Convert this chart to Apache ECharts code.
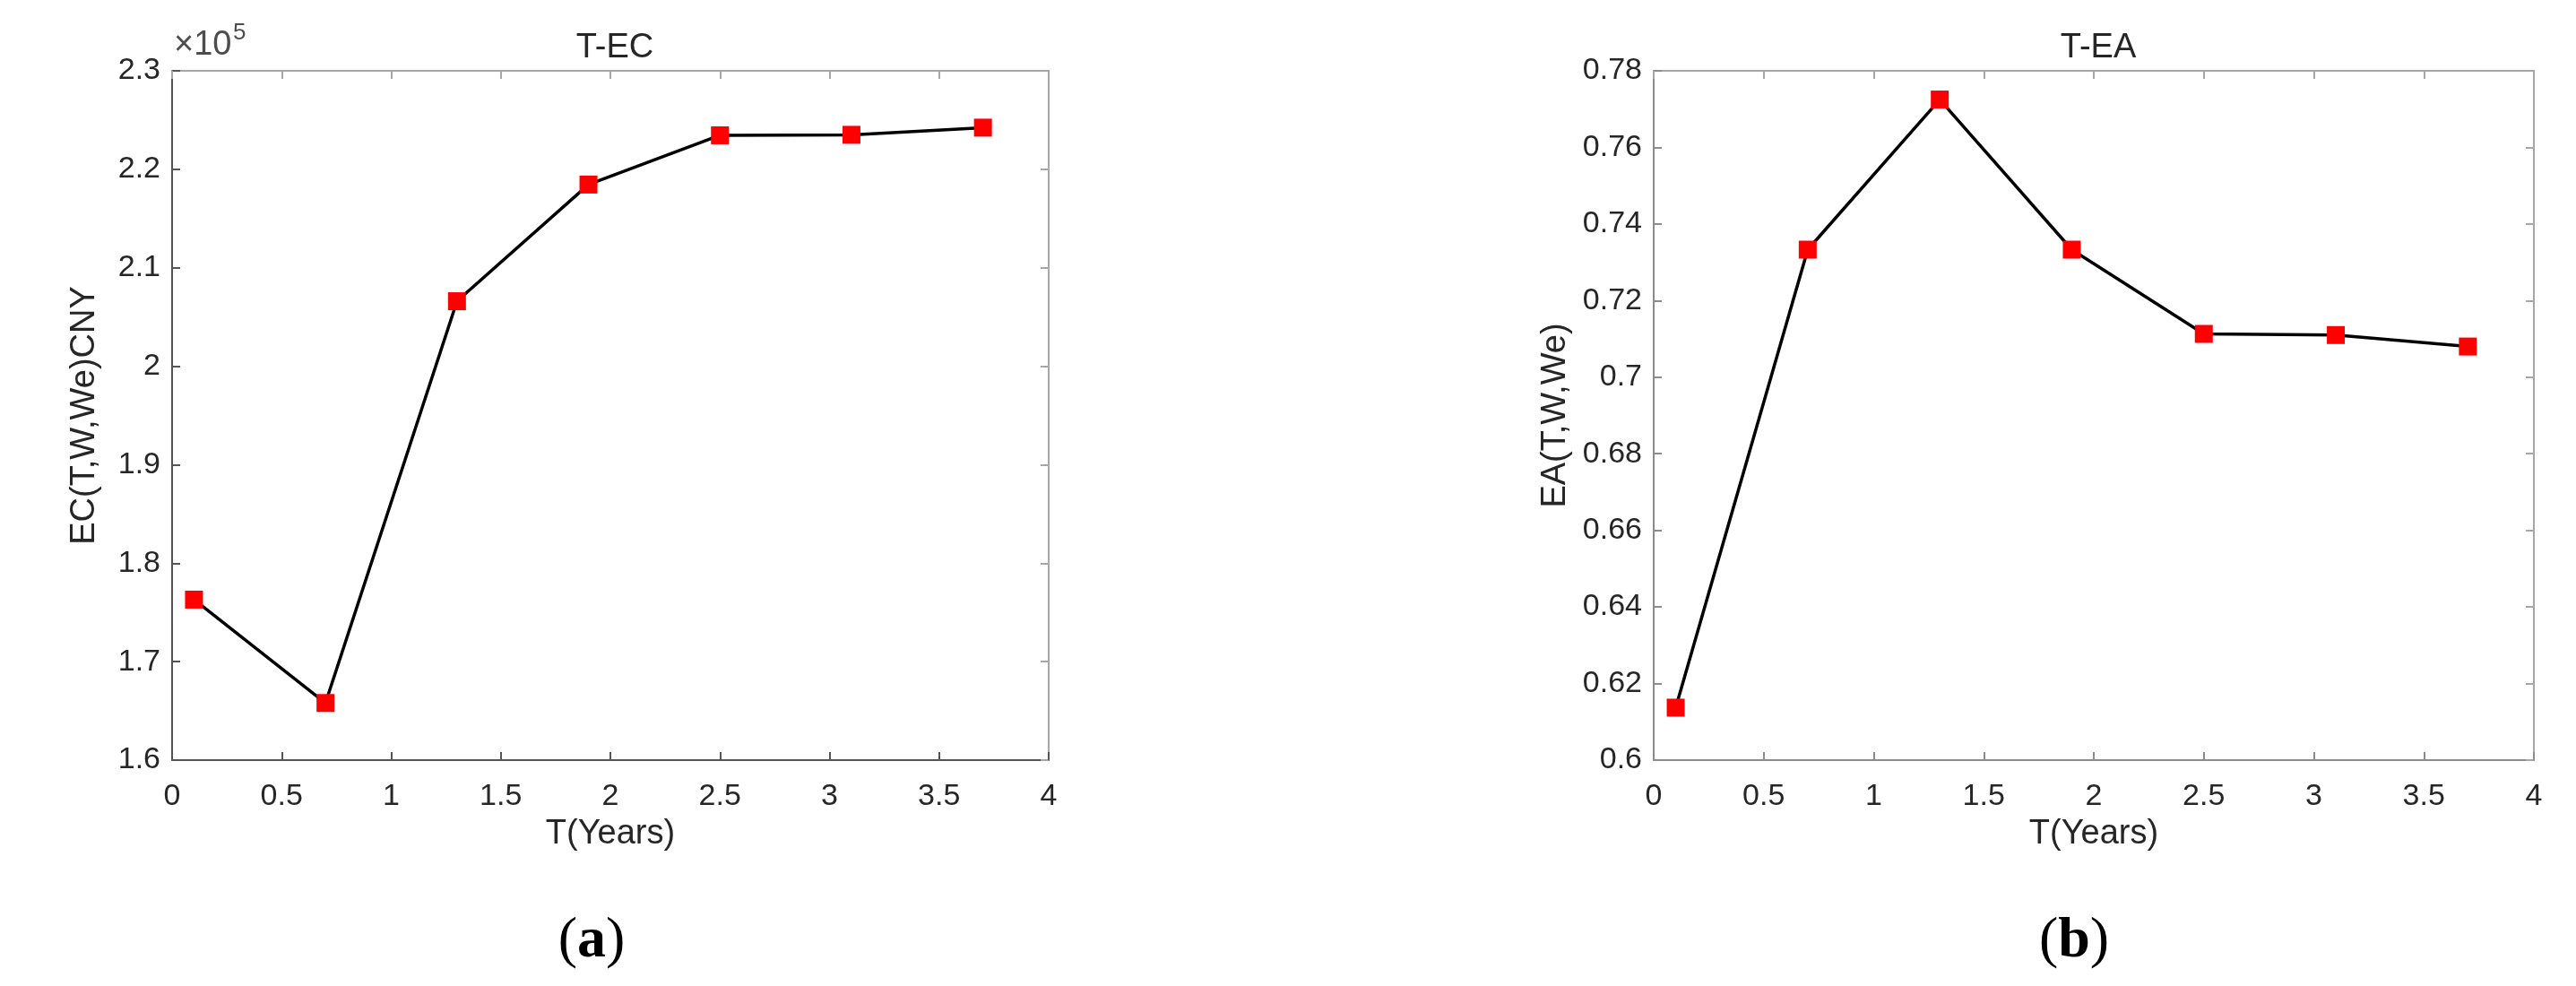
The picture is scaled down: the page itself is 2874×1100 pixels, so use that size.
<!DOCTYPE html>
<html>
<head>
<meta charset="utf-8">
<script src="https://cdn.jsdelivr.net/npm/echarts@6/dist/echarts.min.js"></script>
<style>
html,body{margin:0;padding:0;background:#fff;}
#chart{width:2874px;height:1100px;}
</style>
</head>
<body>
<div id="chart"></div>
<script>
// Data
var tYears = [0.1, 0.7, 1.3, 1.9, 2.5, 3.1, 3.7];
var ecValues = [176300, 165800, 206600, 218450, 223450, 223500, 224230];
var eaValues = [0.6137, 0.7333, 0.7725, 0.7333, 0.7113, 0.7110, 0.7080];
var titleA = 'T-EC';
var titleB = 'T-EA';
var xName = 'T(Years)';
var yNameA = 'EC(T,W,We)CNY';
var yNameB = 'EA(T,W,We)';

function pairs(xs, ys){ return xs.map(function(x,i){ return [x, ys[i]]; }); }

var FONT = '"Liberation Sans", Arial, sans-serif';
var tickColor = '#262626';
var axisDark = '#555555';
var axisLight = '#a6a6a6';

var chart = echarts.init(document.getElementById('chart'));

function xAxes(gi, mainColor){
  return [{
    type:'value', gridIndex:gi, min:0, max:4, interval:0.5, position:'bottom',
    name:xName, nameLocation:'middle', nameGap:64,
    nameTextStyle:{fontFamily:FONT, fontSize:38, color:tickColor},
    axisLine:{show:true, onZero:false, lineStyle:{color:mainColor, width:2}},
    axisTick:{show:true, inside:true, length:9, lineStyle:{color:mainColor, width:2}},
    axisLabel:{fontFamily:FONT, fontSize:34, color:tickColor, margin:24},
    splitLine:{show:false}
  },{
    type:'value', gridIndex:gi, min:0, max:4, interval:0.5, position:'top',
    axisLine:{show:true, onZero:false, lineStyle:{color:axisLight, width:2}},
    axisTick:{show:true, inside:true, length:9, lineStyle:{color:axisLight, width:2}},
    axisLabel:{show:false}, splitLine:{show:false}
  }];
}

function yAxes(gi, mn, mx, iv, name, gap, fmt, mainColor){
  return [{
    type:'value', gridIndex:gi, min:mn, max:mx, interval:iv, position:'left',
    name:name, nameLocation:'middle', nameGap:gap,
    nameTextStyle:{fontFamily:FONT, fontSize:38, color:tickColor},
    axisLine:{show:true, onZero:false, lineStyle:{color:mainColor, width:2}},
    axisTick:{show:true, inside:true, length:9, lineStyle:{color:mainColor, width:2}},
    axisLabel:{fontFamily:FONT, fontSize:34, color:tickColor, margin:13, formatter:fmt},
    splitLine:{show:false}
  },{
    type:'value', gridIndex:gi, min:mn, max:mx, interval:iv, position:'right',
    axisLine:{show:true, onZero:false, lineStyle:{color:axisLight, width:2}},
    axisTick:{show:true, inside:true, length:9, lineStyle:{color:axisLight, width:2}},
    axisLabel:{show:false}, splitLine:{show:false}
  }];
}

var fmtEC = function(v){ return String(parseFloat((v/1e5).toFixed(3))); };
var fmtEA = function(v){ return String(parseFloat(v.toFixed(3))); };

var seriesStyle = {
  type:'line', symbol:'rect', symbolSize:20, showSymbol:true,
  lineStyle:{color:'#000', width:3.5},
  itemStyle:{color:'#ff0000'},
  z:3, animation:false
};

var option = {
  animation:false,
  backgroundColor:'#ffffff',
  grid:[
    {left:192, top:79, width:978, height:769, containLabel:false},
    {left:1845, top:79, width:982, height:769, containLabel:false}
  ],
  title:[
    {text:titleA, left:681, top:49, textAlign:'center', textVerticalAlign:'middle',
     textStyle:{fontFamily:FONT, fontSize:38, fontWeight:'normal', color:tickColor}},
    {text:titleB, left:2336, top:49, textAlign:'center', textVerticalAlign:'middle',
     textStyle:{fontFamily:FONT, fontSize:38, fontWeight:'normal', color:tickColor}}
  ],
  xAxis: xAxes(0, axisDark).concat(xAxes(1, '#8c8c8c')),
  yAxis: yAxes(0, 160000, 230000, 10000, yNameA, 78, fmtEC, axisDark)
         .concat(yAxes(1, 0.6, 0.78, 0.02, yNameB, 90, fmtEA, '#8c8c8c')),
  series:[
    Object.assign({}, seriesStyle, {name:'EC', xAxisIndex:0, yAxisIndex:0, data:pairs(tYears, ecValues)}),
    Object.assign({}, seriesStyle, {name:'EA', xAxisIndex:2, yAxisIndex:2, data:pairs(tYears, eaValues)})
  ],
  graphic:[
    {type:'text', left:194, top:32, style:{text:'\u00d710', font:'38px "Liberation Sans", Arial, sans-serif', fill:'#4d4d4d'}},
    {type:'text', left:260, top:24, style:{text:'5', font:'26px "Liberation Sans", Arial, sans-serif', fill:'#4d4d4d'}},
    {type:'text', x:660, y:1050, style:{rich:{p:{fontFamily:'"Liberation Serif", "Times New Roman", serif', fontSize:64, fill:'#000'}, b:{fontFamily:'"Liberation Serif", "Times New Roman", serif', fontSize:64, fontWeight:'bold', fill:'#000'}}, text:'{p|(}{b|a}{p|)}', align:'center', verticalAlign:'middle'}},
    {type:'text', x:2314, y:1050, style:{rich:{p:{fontFamily:'"Liberation Serif", "Times New Roman", serif', fontSize:64, fill:'#000'}, b:{fontFamily:'"Liberation Serif", "Times New Roman", serif', fontSize:64, fontWeight:'bold', fill:'#000'}}, text:'{p|(}{b|b}{p|)}', align:'center', verticalAlign:'middle'}}
  ]
};
chart.setOption(option);
</script>
</body>
</html>
